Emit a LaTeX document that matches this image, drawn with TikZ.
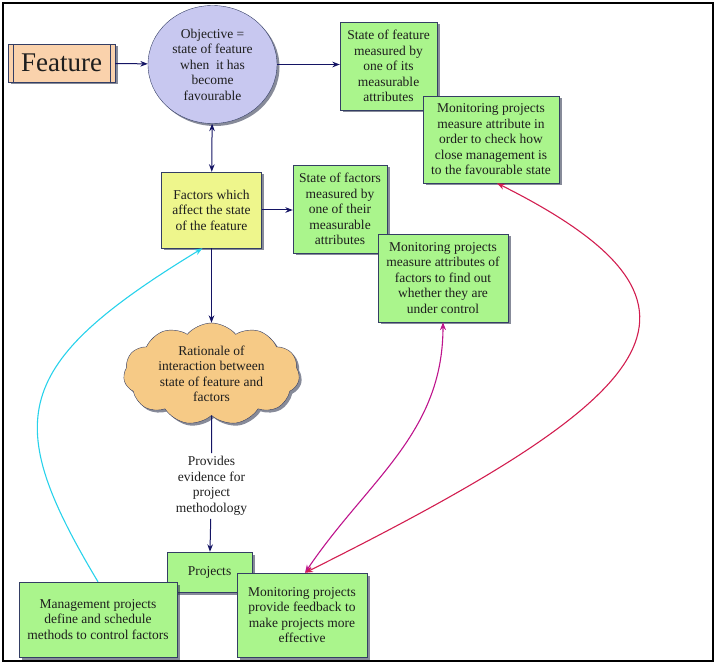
\documentclass[tikz,border=0pt]{standalone}
\usepackage{fontspec}
\setmainfont{Liberation Serif}
\usepackage{tikz}
\usetikzlibrary{positioning,arrows.meta,shapes.geometric,shapes.symbols,shadows}

\definecolor{boxgreen}{RGB}{170,245,140}
\definecolor{boxyellow}{RGB}{238,246,140}
\definecolor{peach}{RGB}{250,210,172}
\definecolor{lavender}{RGB}{200,200,240}
\definecolor{cloudorange}{RGB}{246,202,134}
\definecolor{edgeblue}{RGB}{52,62,100}
\definecolor{navy}{RGB}{20,20,100}
\definecolor{feedcyan}{RGB}{40,210,235}
\definecolor{monmagenta}{RGB}{190,20,140}
\definecolor{moncrimson}{RGB}{210,30,80}
\definecolor{inktext}{RGB}{30,30,30}

\begin{document}
\begin{tikzpicture}[x=1pt, y=-1pt, >=Stealth, font=\fontsize{13.5}{15.5}\selectfont,
		shade/.style={drop shadow={shadow xshift=2.5pt, shadow yshift=-2.5pt, fill=edgeblue!70!black, opacity=.55}},
		box/.style={draw=edgeblue, fill=boxgreen, align=center, inner sep=2pt, text=inktext, shade},
		link/.style={->, navy, line width=1pt},
		loopback/.style={<->, line width=1.1pt}]
		\useasboundingbox (0,0) rectangle (716,666);
		\draw[line width=2pt] (3,3) rectangle (713,661);

		\node[draw=edgeblue, fill=peach, minimum width=107pt, minimum height=38pt, inner sep=0pt, font=\fontsize{27}{29}\selectfont, text=inktext, shade] (feature) at (61.5,63) {Feature};
		\draw[edgeblue] ([xshift=5pt]feature.north west) -- ([xshift=5pt]feature.south west)
		([xshift=-5pt]feature.north east) -- ([xshift=-5pt]feature.south east);
		\node[ellipse, draw=edgeblue, fill=lavender, minimum width=129pt, minimum height=118pt, inner sep=0pt, align=center, text=inktext, shade] (objective) at (212.5,64.5) {Objective =\\state of feature\\when \ it has\\become\\favourable};

		\node[box, minimum width=97pt, minimum height=88pt] (statefeat) at (388.5,66) {State of feature\\measured by\\one of its\\measurable\\attributes};
		\node[box, minimum width=136pt, minimum height=87pt] (monfeat) at (491,139.5) {Monitoring projects\\measure attribute in\\order to check how\\close management is\\to the favourable state};

		\node[box, fill=boxyellow, minimum width=100pt, minimum height=76pt] (factors) at (211.5,210) {Factors which\\affect the state\\of the feature};
		\node[box, minimum width=94pt, minimum height=88pt] (statefac) at (340,209) {State of factors\\measured by\\one of their\\measurable\\attributes};
		\node[box, minimum width=130pt, minimum height=88pt] (monfac) at (443,278) {Monitoring projects\\measure attributes of\\factors to find out\\whether they are\\under control};

		\node[cloud, cloud puffs=11, cloud puff arc=100, aspect=1.75, draw=edgeblue, fill=cloudorange, minimum width=176pt, minimum height=102pt, inner sep=0pt, align=center, text=inktext, shade] (rationale) at (211.5,374) {Rationale of\\interaction between\\state of feature and\\factors};
		\node[align=center, text=inktext] (evidence) at (211.5,486) {Provides\\evidence for\\project\\methodology};

		\node[box, minimum width=85pt, minimum height=40pt] (projects) at (209.5,572) {Projects};
		\node[box, minimum width=158pt, minimum height=75pt] (mgmt) at (98,619.5) {Management projects\\define and schedule\\methods to control factors};
		\node[box, minimum width=130pt, minimum height=84pt] (feedback) at (302,615) {Monitoring projects\\provide feedback to\\make projects more\\effective};

		\path[link]
		(feature) edge (objective)
		(objective.east) edge (objective.east -| statefeat.west)
		(factors.east) edge (factors.east -| statefac.west)
		(factors) edge (rationale)
		(evidence) edge (projects);
		\draw[<->, navy, line width=1pt] (objective) -- (factors);
		\draw[navy, line width=1pt] (rationale) -- (evidence);

		% loops back from the projects
		\draw[->, feedcyan, line width=1.1pt] (mgmt.north) .. controls +(-97,-162) and +(-192,117) .. ([xshift=-9pt]factors.south);
		\draw[loopback, monmagenta] (monfac.south) to[out=-90, in=56] ([xshift=3pt]feedback.north);
		\draw[loopback, moncrimson] ([xshift=6pt]monfeat.south) .. controls +(250,125) and +(350,-175) .. ([xshift=3pt]feedback.north);
	\end{tikzpicture}
\end{document}
